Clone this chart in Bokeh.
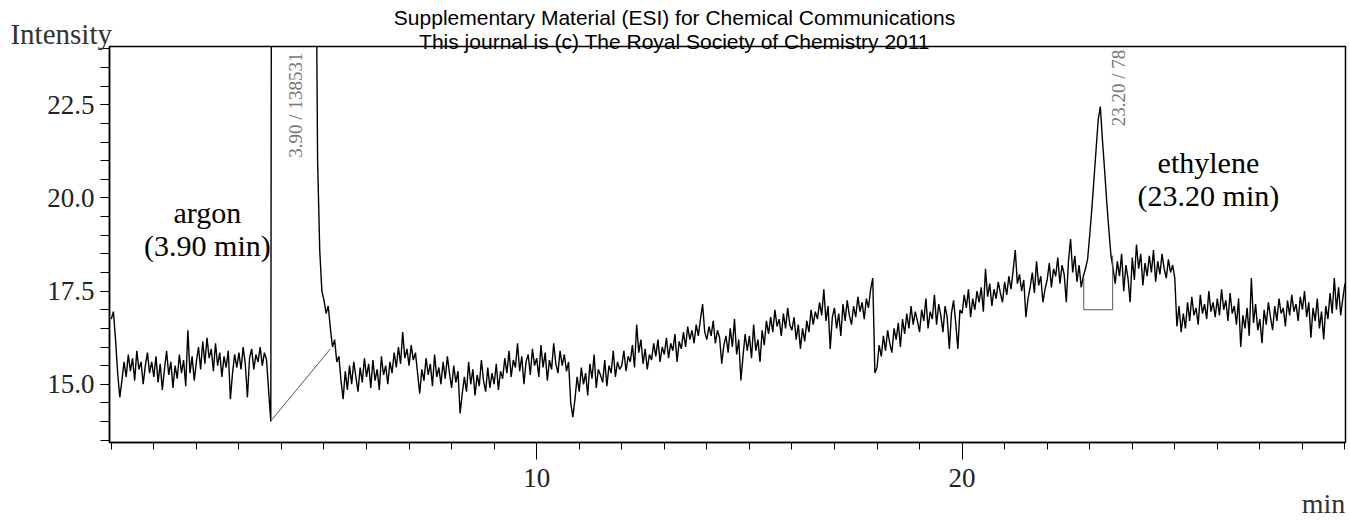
import numpy as np
from bokeh.plotting import figure
from bokeh.models import Label, FixedTicker, Range1d, ColumnDataSource, PrintfTickFormatter
from bokeh.embed import file_html
from bokeh.resources import INLINE

# ---- data ----
t_start = 0.0
t_step = 0.05  # min

intensity_00_05 = [
    16.75, 16.95, 16.2, 15.3, 14.65, 15.1, 15.6, 15.2, 15.8, 15.35, 15.7, 15.1, 15.9, 15.4, 15.6, 15.0, 15.5, 15.85, 15.3, 15.6,
    15.2, 15.75, 15.05, 15.55, 14.85, 15.4, 15.9, 15.25, 15.6, 14.9, 15.5, 15.15, 15.8, 15.3, 15.65, 14.95, 16.45, 15.3, 15.75, 15.1,
    15.6, 16.0, 15.4, 16.15, 15.55, 16.25, 15.7, 15.95, 15.35, 16.1, 15.5, 15.85, 15.2, 15.75, 15.45, 15.9, 14.6, 15.3, 15.8, 15.45,
    15.85, 15.4, 16.0, 15.55, 14.65, 15.7, 15.95, 15.4, 15.8, 15.6, 16.0, 15.5, 15.85, 15.65, 14.8, 14.0, 60, 120, 150, 140,
    130, 115, 100, 90, 80, 72, 65, 58, 52, 47, 43, 40, 37, 34, 32, 30, 29, 21.0, 18.6, 17.5,
]
intensity_05_10 = [
    17.25, 16.9, 17.1, 16.5, 16.0, 16.2, 15.6, 15.75, 15.1, 14.6, 15.35, 14.85, 15.5, 15.0, 15.6, 15.2, 14.8, 15.45, 15.05, 15.7,
    15.2, 15.55, 14.9, 15.65, 15.1, 15.4, 14.85, 15.75, 15.25, 15.5, 15.0, 15.6, 15.3, 15.85, 15.45, 16.0, 15.55, 16.4, 15.7, 15.95,
    15.5, 16.05, 15.65, 15.85, 15.3, 14.75, 15.4, 15.1, 15.7, 15.25, 15.55, 14.95, 15.8, 15.2, 15.45, 15.0, 15.6, 15.15, 15.75, 15.3,
    14.9, 15.5, 15.05, 15.35, 14.22, 14.75, 15.2, 14.8, 15.6, 15.0, 15.4, 14.7, 15.25, 14.95, 15.65, 15.1, 14.8, 15.45, 14.9, 15.3,
    15.0, 15.55, 14.85, 15.35, 15.15, 15.7, 15.3, 15.9, 15.2, 15.65, 15.45, 16.1, 15.35, 15.75, 15.0, 15.6, 15.8, 15.25, 15.95, 15.5,
]
intensity_10_15 = [
    15.7, 15.2, 16.05, 15.45, 15.85, 15.1, 15.65, 15.4, 16.1, 15.55, 15.3, 15.9, 15.5, 15.8, 15.35, 15.6, 14.5, 14.12, 14.6, 15.2,
    14.8, 15.45, 15.0, 15.3, 14.7, 15.55, 15.15, 15.8, 14.9, 15.4, 15.25, 15.05, 15.65, 14.95, 15.5, 15.3, 15.9, 15.2, 15.6, 15.4,
    15.5, 15.9, 15.35, 15.75, 15.6, 16.05, 15.45, 16.6, 15.85, 16.2, 15.55, 15.95, 15.4, 15.8, 15.65, 16.1, 15.75, 16.2, 15.6, 16.0,
    15.8, 16.25, 15.7, 16.1, 15.9, 16.35, 15.6, 16.15, 15.95, 16.4, 16.0, 16.55, 16.2, 16.45, 16.1, 16.6, 16.3, 16.75, 17.15, 16.4,
    16.2, 16.55, 16.3, 16.7, 16.1, 16.45, 16.25, 15.55, 16.05, 16.3, 15.85, 16.5, 16.0, 16.75, 15.8, 16.2, 15.1, 15.75, 16.35, 15.9,
]
intensity_15_20 = [
    16.3, 15.7, 16.6, 15.9, 16.2, 15.6, 16.45, 16.05, 16.7, 16.35, 16.8, 16.4, 17.0, 16.55, 16.75, 16.3, 16.9, 16.5, 17.05, 16.6,
    16.45, 16.8, 16.2, 16.6, 15.95, 16.5, 16.15, 16.7, 16.4, 17.0, 16.6, 16.95, 16.75, 17.2, 16.85, 17.55, 16.7, 17.1, 15.95, 16.8,
    17.05, 16.5, 16.9, 16.3, 17.15, 16.7, 17.25, 16.85, 16.6, 17.1, 16.8, 17.35, 16.95, 17.2, 16.75, 17.3, 17.05, 17.55, 17.85, 15.3,
    15.45, 16.05, 15.75, 16.3, 15.9, 16.45, 16.1, 15.85, 16.5, 16.2, 16.65, 16.0, 16.75, 16.35, 16.9, 16.5, 17.1, 16.6, 16.95, 16.7,
    16.4, 17.0, 16.7, 17.3, 16.5, 16.95, 16.75, 17.4, 16.6, 17.15, 16.85, 16.4, 17.1, 16.8, 15.95, 16.9, 17.25, 16.65, 15.95, 17.0,
]
intensity_20_25 = [
    16.9, 17.4, 17.05, 17.55, 16.8, 17.3, 17.0, 17.5, 17.2, 17.6, 16.95, 18.1, 17.35, 17.7, 17.1, 17.55, 17.3, 17.75, 17.45, 17.2,
    17.75, 17.4, 17.9, 17.55, 18.05, 18.6, 17.7, 17.95, 17.5, 17.8, 16.8, 17.3, 17.6, 18.0, 17.45, 18.3, 17.65, 17.9, 17.2, 17.55,
    17.8, 18.25, 17.6, 18.1, 17.9, 18.4, 17.7, 18.2, 17.95, 17.2, 18.3, 18.9, 18.0, 18.45, 17.75, 18.2, 17.6, 17.9, 18.1, 18.35,
    19.0, 19.7, 20.5, 21.3, 22.1, 22.45, 21.55, 20.75, 19.9, 19.15, 18.45, 18.1, 17.7, 18.3, 17.9, 18.5, 17.5, 18.2, 17.85, 17.2,
    18.4, 17.8, 18.75, 18.1, 18.5, 17.65, 18.25, 17.9, 18.45, 18.0, 18.6, 17.75, 18.3, 17.95, 18.5, 18.1, 17.85, 18.35, 18.0, 18.2,
]
intensity_25_29 = [
    17.85, 16.55, 17.1, 16.4, 16.9, 16.5, 17.2, 16.7, 17.35, 16.85, 17.05, 16.6, 17.4, 16.9, 17.15, 16.75, 17.5, 16.95, 17.2, 16.8,
    17.3, 16.85, 17.55, 17.0, 17.25, 16.7, 17.45, 16.9, 17.1, 16.6, 17.3, 16.0, 16.85, 16.5, 17.05, 16.3, 17.85, 16.65, 17.15, 16.45,
    16.75, 16.1, 17.0, 16.6, 17.2, 16.8, 16.45, 17.1, 16.7, 17.3, 16.9, 17.05, 16.55, 17.25, 16.85, 17.4, 16.95, 17.15, 16.7, 17.35,
    17.0, 17.5, 16.8, 17.2, 16.25, 17.05, 16.7, 17.3, 16.5, 16.95, 16.2, 17.1, 16.75, 17.45, 16.9, 17.85, 17.0, 17.6, 16.85, 17.3,
    17.7,
]

# integration baselines drawn by the integrator
argon_base_t = [3.74, 5.15]
argon_base_y = [14.0, 15.95]
ethylene_base_t = [22.86, 22.86, 23.54, 23.54]
ethylene_base_y = [17.85, 17.0, 17.0, 18.45]

# peak annotations: retention time / area
peak_text = ["3.90 / 138531", "23.20 / 78"]
compound_names = ["argon\n(3.90 min)", "ethylene\n(23.20 min)"]

y_major = [15.0, 17.5, 20.0, 22.5]
y_minor = [13.5 + 0.5 * i for i in range(22)]
x_major = [10, 20]
x_minor = list(range(0, 30))

header_lines = ["Supplementary Material (ESI) for Chemical Communications",
                "This journal is (c) The Royal Society of Chemistry 2011"]

# ---- build ----
intensity = (intensity_00_05 + intensity_05_10 + intensity_10_15 +
             intensity_15_20 + intensity_20_25 + intensity_25_29)
time = [round(t_start + i * t_step, 2) for i in range(len(intensity))]
src = ColumnDataSource(dict(t=time, y=intensity))

p = figure(width=1350, height=521, output_backend="svg", toolbar_location=None,
           x_range=Range1d(-0.042, 29.013), y_range=Range1d(13.438, 24.064),
           min_border_left=109, min_border_right=5, min_border_top=45, min_border_bottom=75)
p.background_fill_color = "white"
p.border_fill_color = "white"
p.outline_line_color = "black"
p.outline_line_width = 1.5
p.xgrid.visible = False
p.ygrid.visible = False

serif = "Liberation Serif"

p.line("t", "y", source=src, line_color="black", line_width=1.4)
p.line(argon_base_t, argon_base_y, line_color="#555555", line_width=1)
p.line(ethylene_base_t, ethylene_base_y, line_color="#555555", line_width=1)

# axes
ya = p.yaxis[0]
ya.ticker = FixedTicker(ticks=y_major, minor_ticks=y_minor)
ya.formatter = PrintfTickFormatter(format="%.1f")
ya.major_tick_out = 9
ya.major_tick_in = 0
ya.minor_tick_out = 9
ya.minor_tick_in = 0
ya.major_label_standoff = 6
ya.major_label_text_font = serif
ya.major_label_text_font_size = "27px"
ya.major_label_text_color = "#222222"
ya.axis_line_color = "black"
ya.axis_line_width = 1.5

xa = p.xaxis[0]
xa.ticker = FixedTicker(ticks=x_major, minor_ticks=x_minor)
xa.major_tick_out = 17
xa.major_tick_in = 0
xa.minor_tick_out = 7
xa.minor_tick_in = 0
xa.major_label_standoff = 9
xa.major_label_text_font = serif
xa.major_label_text_font_size = "27px"
xa.major_label_text_color = "#222222"
xa.axis_line_color = "black"
xa.axis_line_width = 1.5

# texts outside the frame: placed in side panels (where they fit) so they are not clipped
h2 = Label(x=13.24, y=24.19, text=header_lines[1], text_font="Liberation Sans",
           text_font_size="21px", text_color="black", text_align="center", text_baseline="middle")
h1 = Label(x=13.24, y=24.84, text=header_lines[0], text_font="Liberation Sans",
           text_font_size="21px", text_color="black", text_align="center", text_baseline="middle")
p.add_layout(h2, "above")
p.add_layout(h1, "above")

lab_int = Label(x=-2.37, y=24.40, text="Intensity", text_font=serif, text_font_size="29px",
                text_color="#333333", text_align="left", text_baseline="alphabetic")
p.add_layout(lab_int, "below")

lab_min = Label(x=29.01, y=11.80, text="min", text_font=serif, text_font_size="28px",
                text_color="#333333", text_align="right", text_baseline="middle")
p.add_layout(lab_min, "left")

p.add_layout(Label(x=4.33, y=23.90, text=peak_text[0], angle=np.pi / 2, text_font=serif,
                   text_font_size="19px", text_color="#777777", text_align="right", text_baseline="middle"))
p.add_layout(Label(x=23.68, y=23.98, text=peak_text[1], angle=np.pi / 2, text_font=serif,
                   text_font_size="19px", text_color="#777777", text_align="right", text_baseline="middle"))

for (cx, cy), name in zip([(2.26, 19.6), (25.79, 20.94)], compound_names):
    l1, l2 = name.split("\n")
    p.add_layout(Label(x=cx, y=cy, text=l1, text_font=serif, text_font_size="30px",
                       text_color="black", text_align="center", text_baseline="middle"))
    p.add_layout(Label(x=cx, y=cy - 0.87, text=l2, text_font=serif, text_font_size="30px",
                       text_color="black", text_align="center", text_baseline="middle"))

open("out.html", "w").write(file_html(p, INLINE))
